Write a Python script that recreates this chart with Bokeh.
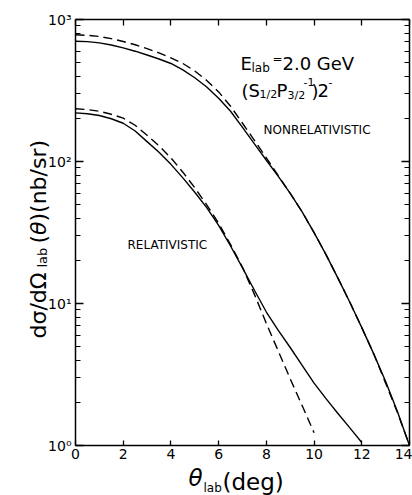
import math
from bokeh.plotting import figure
from bokeh.models import (LinearAxis, LogAxis, FixedTicker, LogTicker, Label, Range1d)
from bokeh.embed import file_html
from bokeh.resources import INLINE

# ---------------- data ----------------
theta_nonrel = [0, 0.5, 1, 1.5, 2, 2.5, 3, 3.5, 4, 4.5, 5, 5.5, 6, 6.5, 7, 7.5, 8,
                8.5, 9, 9.5, 10, 10.5, 11, 11.5, 12, 12.5, 13, 13.5, 14]
nonrel_solid = [703, 698, 684, 661, 631, 598, 562, 527, 490, 442, 389, 335, 279, 226,
                174, 133, 102, 78.5, 59.6, 44.2, 31.6, 22.1, 15.1, 10.2, 6.76, 4.42,
                2.82, 1.72, 1.0]
nonrel_dashed = [780, 774, 759, 733, 700, 664, 624, 582, 537, 490, 434, 372, 309, 245,
                 186, 141, 106, 79.4, 59.6, 44.2, 31.6, 22.1, 15.1, 10.2, 6.76, 4.42,
                 2.75, 1.70, 1.0]

theta_rel_solid = [0, 0.5, 1, 1.5, 2, 2.5, 3, 3.5, 4, 4.5, 5, 5.5, 6, 6.5, 7, 7.5, 8,
                   8.5, 9, 9.5, 10, 10.5, 11, 11.5, 12]
rel_solid = [220, 217, 211, 200, 186, 164, 138, 116, 95.5, 76.7, 60.7, 47.3, 35.5,
             25.4, 17.8, 12.4, 8.71, 6.46, 4.90, 3.67, 2.75, 2.14, 1.68, 1.33, 1.05]

theta_rel_dashed = [0, 0.5, 1, 1.5, 2, 2.5, 3, 3.5, 4, 4.5, 5, 5.5, 6, 6.5, 7, 7.5, 8,
                    8.5, 9, 9.5, 10]
rel_dashed = [235, 232, 226, 215, 202, 180, 153, 129, 106, 84.1, 65.3, 49.5, 36.7,
              26.0, 18.0, 11.6, 7.24, 4.62, 2.95, 1.91, 1.23]

x_ticks = [0, 2, 4, 6, 8, 10, 12, 14]
x_limits = (0, 14)
y_limits = (1, 1000)
y_tick_labels = {1: "10\u2070", 10: "10\u00b9", 100: "10\u00b2", 1000: "10\u00b3"}

FONT = "DejaVu Sans"

# ---------------- geometry: the plot box inside the 412x495 canvas ----------------
W, H = 412, 495
FX0, FX1, FY0, FY1 = 75.0, 409.0, 19.0, 445.0
DEC = (FY1 - FY0) / 3.0

def dx(px):
    return x_limits[0] + (px - FX0) / (FX1 - FX0) * (x_limits[1] - x_limits[0])

def dy(py):
    return 10 ** (3 - (py - FY0) / DEC)

# the frame covers the whole canvas so that every text can be placed freely;
# the axes are drawn at fixed locations around the data box
p = figure(width=W, height=H, x_range=Range1d(dx(0), dx(W)),
           y_range=Range1d(dy(H), dy(0)), y_axis_type="log",
           output_backend="svg", toolbar_location=None, min_border=0)
p.background_fill_color = "white"
p.border_fill_color = "white"
p.outline_line_color = None
p.xgrid.grid_line_color = None
p.ygrid.grid_line_color = None

# bottom axis
xa = p.xaxis[0]
xa.fixed_location = y_limits[0]
xa.bounds = x_limits
xa.ticker = FixedTicker(ticks=x_ticks)
xa.major_tick_in = 5
xa.major_tick_out = 0
xa.minor_tick_line_color = None
xa.axis_line_width = 1.5
xa.major_tick_line_width = 1.3
xa.major_label_text_font = FONT
xa.major_label_text_font_size = "14px"
xa.major_label_text_color = "black"
xa.major_label_standoff = 3

# left axis
ya = p.yaxis[0]
ya.fixed_location = x_limits[0]
ya.bounds = y_limits
ya.ticker = LogTicker(num_minor_ticks=10)
ya.major_label_overrides = y_tick_labels
ya.major_tick_in = 8
ya.major_tick_out = 0
ya.minor_tick_in = 5
ya.minor_tick_out = 0
ya.axis_line_width = 1.5
ya.major_tick_line_width = 1.3
ya.minor_tick_line_width = 1.2
ya.major_label_text_font = FONT
ya.major_label_text_font_size = "14px"
ya.major_label_text_color = "black"
ya.major_label_standoff = 4

# top axis (ticks only)
ta = LinearAxis(fixed_location=y_limits[1], bounds=x_limits,
                ticker=FixedTicker(ticks=x_ticks), major_tick_in=6, major_tick_out=0,
                minor_tick_line_color=None, axis_line_width=1.5,
                major_tick_line_width=1.3, major_label_text_font_size="1px",
                major_label_text_alpha=0, major_label_standoff=0)
p.add_layout(ta, "above")

# right axis (ticks only)
ra = LogAxis(fixed_location=x_limits[1], bounds=y_limits,
             ticker=LogTicker(num_minor_ticks=10), major_tick_in=8, major_tick_out=0,
             minor_tick_in=5, minor_tick_out=0, axis_line_width=1.5,
             major_tick_line_width=1.3, minor_tick_line_width=1.2,
             major_label_text_font_size="1px", major_label_text_alpha=0,
             major_label_standoff=0)
p.add_layout(ra, "right")

# ---------------- curves ----------------
p.line(theta_nonrel, nonrel_solid, line_color="black", line_width=1.4)
p.line(theta_nonrel, nonrel_dashed, line_color="black", line_width=1.4, line_dash="9 5")
p.line(theta_rel_solid, rel_solid, line_color="black", line_width=1.4)
p.line(theta_rel_dashed, rel_dashed, line_color="black", line_width=1.4, line_dash="9 5")

# ---------------- texts ----------------
def lab(text, px, py, size, style="normal", angle=0.0):
    p.add_layout(Label(x=dx(px), y=dy(py), text=text, text_font=FONT,
                       text_font_size=f"{size}px", text_font_style=style,
                       text_color="black", text_align="left",
                       text_baseline="alphabetic", angle=angle))

# annotation: E_lab = 2.0 GeV
lab("E", 240, 63, 18)
lab("lab", 251, 67, 12)
lab("=", 272, 58, 12)
lab("2.0 GeV", 282, 63, 18)

# annotation: (S_1/2 P_3/2^-1) 2^-
lab("(", 241, 91, 18)
lab("S", 248, 90, 18)
lab("1/2", 259, 94, 11)
lab("P", 276, 90, 18)
lab("3/2", 287, 95, 11)
lab("-1", 303, 81, 11)
lab(")", 311, 91, 18)
lab("2", 317, 90, 18)
lab("-", 328, 81, 11)

lab("NONRELATIVISTIC", 263, 129, 12)
lab("RELATIVISTIC", 127, 244, 12)

# x-axis label
lab("\u03b8", 188, 477, 23, style="italic")
lab("lab", 203, 487, 12)
lab("(deg)", 222, 481, 23)

# y-axis label (rotated)
R = math.pi / 2
lab("d\u03c3/d\u03a9", 38, 338, 22, angle=R)
lab("lab", 42, 267, 13, angle=R)
lab("(", 38, 243, 22, angle=R)
lab("\u03b8", 38, 234.5, 22, style="italic", angle=R)
lab(")(nb/sr)", 38, 221, 22, angle=R)

open("out.html", "w").write(file_html(p, INLINE))
